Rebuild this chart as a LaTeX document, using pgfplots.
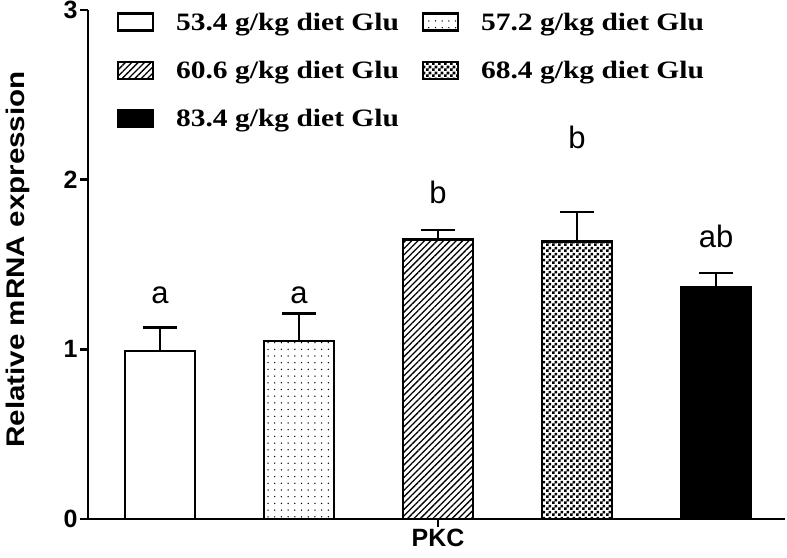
\documentclass[border=0pt]{standalone}
\usepackage{graphicx}
\usepackage{pgfplots}
\pgfplotsset{compat=1.18}
\usepackage{fontspec}
\setmainfont{Liberation Sans}
\newfontfamily\timesfont{Liberation Serif}
\usetikzlibrary{patterns,patterns.meta}
\pgfdeclarepatternformonly{checker}{\pgfqpoint{0pt}{0pt}}{\pgfqpoint{6pt}{6pt}}{\pgfqpoint{6pt}{6pt}}{%
  \pgfpathrectangle{\pgfqpoint{0pt}{0pt}}{\pgfqpoint{3pt}{3pt}}%
  \pgfpathrectangle{\pgfqpoint{3pt}{3pt}}{\pgfqpoint{3pt}{3pt}}%
  \pgfusepath{fill}}
\newcommand{\leg}[1]{\scalebox{1.18}[1]{#1}}
\begin{document}
\begin{tikzpicture}
\path[use as bounding box] (0,0) rectangle (787pt,557pt);
\begin{axis}[
  at={(88pt,38pt)}, anchor=south west,
  scale only axis, width=697pt, height=509pt,
  xmin=-0.518, xmax=4.496, ymin=0, ymax=3,
  axis x line=bottom, axis y line=left,
  axis line style={-, line width=2.6pt},
  every tick/.style={black, line width=2.6pt},
  major tick length=8pt, tick align=outside,
  xtick={2}, xticklabels={PKC},
  ytick={0,1,2,3},
  /pgf/number format/assume math mode=true,
  ticklabel style={font=\fontsize{25}{28}\selectfont\bfseries},
  yticklabel style={xshift=1pt},
  xticklabel style={yshift=1pt},
  ylabel={\scalebox{1.16}[1]{Relative mRNA expression}},
  ylabel style={at={(axis description cs:-0.0904,0.51)}, anchor=base, font=\fontsize{25.5}{28}\selectfont\bfseries},
  legend columns=2,
  legend style={at={(0.037,1.003)}, anchor=north west, draw=none, fill=none,
    font=\fontsize{25}{29}\selectfont\timesfont\bfseries,
    /tikz/every even column/.append style={column sep=21pt},
    row sep=25.5pt},
  legend image code/.code={\draw[#1, line width=2.2pt] (0pt,-8.5pt) rectangle (35pt,8.5pt); \path[draw=none, fill=none] (56pt,0pt);},
  bar width=0.505, bar shift=0pt,
  error bars/y dir=plus, error bars/y explicit,
  error bars/error bar style={line width=2.6pt, black},
  error bars/error mark options={rotate=90, mark size=17pt, line width=2.6pt, black},
]
\addplot[ybar, draw=black, line width=2.6pt, fill=white] coordinates {(0,0.99) +- (0,0.14)};
\addlegendentry{\leg{53.4 g/kg diet Glu}}
\addplot[ybar, draw=black, line width=2.6pt, pattern={Dots[distance=6.7pt, radius=0.75pt]}] coordinates {(1,1.05) +- (0,0.16)};
\addlegendentry{\leg{57.2 g/kg diet Glu}}
\addplot[ybar, draw=black, line width=2.6pt, pattern={Lines[angle=45, distance=4.5pt, line width=1.3pt]}] coordinates {(2,1.648) +- (0,0.055)};
\addlegendentry{\leg{60.6 g/kg diet Glu}}
\addplot[ybar, draw=black, line width=2.6pt, pattern=checker] coordinates {(3,1.634) +- (0,0.176)};
\addlegendentry{\leg{68.4 g/kg diet Glu}}
\addplot[ybar, draw=black, line width=2.6pt, fill=black] coordinates {(4,1.363) +- (0,0.087)};
\addlegendentry{\leg{83.4 g/kg diet Glu}}
\node[anchor=base, font=\fontsize{31}{34}\selectfont] at (axis cs:0,1.273) {a};
\node[anchor=base, font=\fontsize{31}{34}\selectfont] at (axis cs:1,1.273) {a};
\node[anchor=base, font=\fontsize{31}{34}\selectfont] at (axis cs:2,1.862) {b};
\node[anchor=base, font=\fontsize{31}{34}\selectfont] at (axis cs:3,2.186) {b};
\node[anchor=base, font=\fontsize{31}{34}\selectfont] at (axis cs:4,1.603) {ab};
\end{axis}
\end{tikzpicture}
\end{document}
